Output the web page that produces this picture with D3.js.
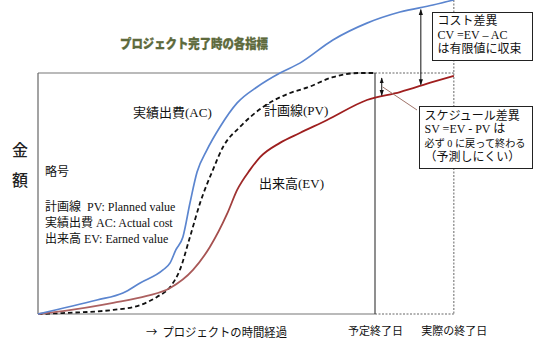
<!DOCTYPE html>
<html><head><meta charset="utf-8">
<script src="https://cdn.jsdelivr.net/npm/d3@7"></script>
<style>
html,body{margin:0;padding:0;background:#fff;}
svg{display:block;}
</style></head>
<body>
<script>
// ---- data (time: planned duration = 100, amount: BAC = 100) ----
const acT = [0, 17.5, 25.2, 30.3, 37.1, 39.2, 40.9, 43.0, 45.1, 47.2, 50.1, 54.0, 59.1, 65.0, 71.8, 77.7, 87.5, 97.6, 107.4, 117.2, 123.4];
const acV = [0, 5.8, 8.7, 12.9, 18.3, 21.2, 26.6, 32.0, 46.1, 58.9, 68.0, 77.6, 87.6, 94.2, 100, 104.1, 113.7, 120.7, 125.3, 128.2, 130.3];
const pvT = [0, 7.4, 22.3, 30.3, 35.3, 39.2, 42.1, 45.1, 48.1, 51.9, 54.9, 59.9, 66.8, 74.8, 80.0, 87.5, 95.5, 100];
const pvV = [0, 0.4, 1.7, 3.7, 7.1, 11.2, 18.3, 32.0, 46.1, 59.8, 69.3, 77.6, 85.9, 91.7, 94.0, 98.3, 100, 100];
const evT = [0, 7.4, 22.3, 32.3, 39.2, 46.0, 51.0, 56.1, 59.1, 62.9, 65.9, 71.8, 77.7, 85.8, 97.6, 107.4, 117.2, 123.4];
const evV = [0, 1.2, 4.6, 7.5, 10.8, 18.3, 27.8, 41.5, 51.5, 59.8, 65.1, 71.0, 75.1, 80.5, 88.8, 92.1, 96.3, 98.8];
const plannedEnd = 100, actualEnd = 123.4, bac = 100;
const tickValues = [plannedEnd, actualEnd];
const tickLabels = ["予定終了日", "実際の終了日"];
const seriesLabels = ["実績出費(AC)", "計画線(PV)", "出来高(EV)"];
const title = "プロジェクト完了時の各指標";
const legendLines = ["略号", "計画線  PV: Planned value", "実績出費 AC: Actual cost", "出来高 EV: Earned value"];
const cvLines = ["コスト差異", "CV =EV – AC", "は有限値に収束"];
const svLines = ["スケジュール差異", "SV =EV - PV は", "必ず 0 に戻って終わる", "（予測しにくい）"];
const xAxisTitle = "→  プロジェクトの時間経過";
const yAxisTitle = ["金", "額"];

const W = 534, H = 351;
const x = d3.scaleLinear().domain([0, plannedEnd]).range([38, 375]);
const y = d3.scaleLinear().domain([0, bac]).range([314, 73]);

const svg = d3.select("body").append("svg").attr("width", W).attr("height", H);
const defs = svg.append("defs");
const FONT = "'Liberation Serif','Noto Sans CJK JP',serif";
const GOTHIC = "'Noto Sans CJK JP','Noto Sans',sans-serif";

// arrow marker
["s","e"].forEach(k=>{
  defs.append("marker").attr("id","arr-"+k).attr("viewBox","0 0 10 10")
    .attr("refX", 9).attr("refY",5).attr("markerWidth",6).attr("markerHeight",6)
    .attr("orient", "auto-start-reverse")
    .append("path").attr("d","M0,1.5 L10,5 L0,8.5 Z").attr("fill","#111");
});
// EV gradient
const g = defs.append("linearGradient").attr("id","evg").attr("gradientUnits","userSpaceOnUse")
  .attr("x1",0).attr("y1",y(0)).attr("x2",0).attr("y2",y(bac));
g.append("stop").attr("offset","0%").attr("stop-color","#ad6464");
g.append("stop").attr("offset","40%").attr("stop-color","#a34a48");
g.append("stop").attr("offset","60%").attr("stop-color","#9c1f1f");
g.append("stop").attr("offset","100%").attr("stop-color","#a01e1e");

// title
svg.append("text").attr("x", 194).attr("y", 48).attr("text-anchor","middle")
  .attr("font-family", GOTHIC).attr("font-weight","900").attr("font-size", 13)
  .attr("fill","#5d6a3c").attr("stroke","#5d6a3c").attr("stroke-width",0.3)
  .attr("textLength",148).attr("lengthAdjust","spacingAndGlyphs").text(title);

// dotted extension lines
const dot = svg.append("g").attr("stroke","#666").attr("stroke-width",1).attr("stroke-dasharray","2,1.5").attr("fill","none");
dot.append("line").attr("x1", x(plannedEnd)).attr("x2", x(actualEnd)).attr("y1", y(bac)).attr("y2", y(bac));
dot.append("line").attr("x1", x(plannedEnd)).attr("x2", x(actualEnd)).attr("y1", y(0)).attr("y2", y(0));
dot.append("line").attr("x1", x(actualEnd)).attr("x2", x(actualEnd)).attr("y1", 0).attr("y2", y(0));

// frame
const fr = svg.append("g").attr("fill","none");
fr.append("line").attr("x1", x(0)).attr("x2", x(plannedEnd)).attr("y1", y(bac)).attr("y2", y(bac)).attr("stroke","#777").attr("stroke-width",1.2);
fr.append("line").attr("x1", x(0)).attr("x2", x(plannedEnd)).attr("y1", y(0)).attr("y2", y(0)).attr("stroke","#777").attr("stroke-width",1.2);
fr.append("line").attr("x1", x(0)).attr("x2", x(0)).attr("y1", y(bac)).attr("y2", y(0)).attr("stroke","#666").attr("stroke-width",1.2);
fr.append("line").attr("x1", x(plannedEnd)).attr("x2", x(plannedEnd)).attr("y1", y(bac)).attr("y2", y(0)).attr("stroke","#333").attr("stroke-width",1.1);

// curves
const line = d3.line().x(d=>x(d[0])).y(d=>y(d[1])).curve(d3.curveMonotoneX);
const zip = (a,b)=>a.map((v,i)=>[v,b[i]]);
svg.append("path").attr("d", line(zip(pvT,pvV))).attr("fill","none").attr("stroke","#111").attr("stroke-width",1.8).attr("stroke-dasharray","4.5,3");
svg.append("path").attr("d", line(zip(evT,evV))).attr("fill","none").attr("stroke","url(#evg)").attr("stroke-width",1.8);
svg.append("path").attr("d", line(zip(acT,acV))).attr("fill","none").attr("stroke","#5b85cf").attr("stroke-width",1.7);

// variance arrows
const interp = (T,V,t)=>{ for(let i=1;i<T.length;i++){ if(t<=T[i]){const f=(t-T[i-1])/(T[i]-T[i-1]); return V[i-1]+f*(V[i]-V[i-1]);} } return V[V.length-1]; };
const tCV = 113.6, tSV = 102.0;
svg.append("line").attr("x1", x(tCV)).attr("x2", x(tCV)).attr("y1", y(interp(acT,acV,tCV))+2).attr("y2", y(interp(evT,evV,tCV))-1)
  .attr("stroke","#111").attr("stroke-width",1).attr("marker-start","url(#arr-s)").attr("marker-end","url(#arr-e)");
svg.append("line").attr("x1", x(tSV)).attr("x2", x(tSV)).attr("y1", y(bac)+5).attr("y2", y(interp(evT,evV,tSV))-1)
  .attr("stroke","#111").attr("stroke-width",1).attr("marker-start","url(#arr-s)").attr("marker-end","url(#arr-e)");
// leader line
svg.append("line").attr("x1", x(tSV)+1).attr("y1", 87).attr("x2", 417).attr("y2", 110).attr("stroke","#a0746a").attr("stroke-width",1);

// boxes
function box(x0,y0,w,h,lines,ys,fs){
  svg.append("rect").attr("x",x0).attr("y",y0).attr("width",w).attr("height",h).attr("fill","#fff").attr("stroke","#222").attr("stroke-width",1);
  lines.forEach((t,i)=>{
    const tx = svg.append("text").attr("x",x0+5).attr("y",ys[i]).attr("font-family",FONT).attr("font-size",fs[i]).attr("fill","#111").text(t);
    const len = tx.node().getComputedTextLength();
    if (len > w - 12) tx.attr("textLength", w - 12).attr("lengthAdjust","spacingAndGlyphs");
  });
}
box(432.5, 12.5, 100, 48, cvLines, [25, 39, 53], [12, 12, 12]);
box(419.5, 106.5, 113, 62, svLines, [120, 133, 147, 161], [12, 12, 10.5, 12]);

// series labels
const lbl = svg.append("g").attr("font-family",FONT).attr("font-size",13).attr("fill","#111");
lbl.append("text").attr("x",133).attr("y",117).text(seriesLabels[0]);
lbl.append("text").attr("x",264).attr("y",115).text(seriesLabels[1]);
lbl.append("text").attr("x",259).attr("y",188).text(seriesLabels[2]);

// legend
const lg = svg.append("g").attr("font-family",FONT).attr("font-size",12).attr("fill","#111");
const legY = [176, 211, 227, 243];
legendLines.forEach((t,i)=>lg.append("text").attr("x",45).attr("y",legY[i]).style("white-space","pre").text(t));

// y axis title
yAxisTitle.forEach((t,i)=>svg.append("text").attr("x",20).attr("y",[156,186][i]).attr("text-anchor","middle")
  .attr("font-family",GOTHIC).attr("font-size",16).attr("font-weight","500").attr("fill","#222").text(t));

// x axis labels
const ax = svg.append("g").attr("transform",`translate(0,${y(0)})`)
  .call(d3.axisBottom(x).tickValues(tickValues).tickSize(0).tickPadding(13).tickFormat((d,i)=>tickLabels[i]));
ax.select(".domain").remove();
ax.selectAll("text").attr("font-family",GOTHIC).attr("font-size",11).attr("fill","#111");

svg.append("text").attr("x",146).attr("y",337).attr("font-family",GOTHIC).attr("font-size",12).attr("fill","#111")
  .attr("textLength",141).attr("lengthAdjust","spacingAndGlyphs")
  .style("white-space","pre").text(xAxisTitle);
</script>
</body></html>
